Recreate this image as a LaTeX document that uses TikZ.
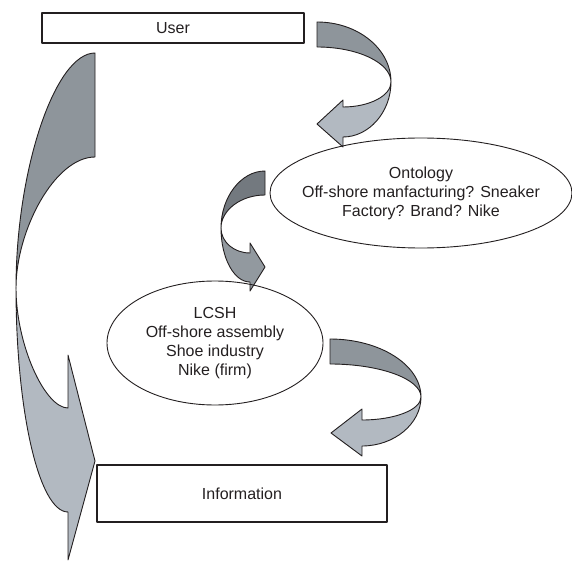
\documentclass[tikz,border=0pt]{standalone}
\usepackage{fontspec}
\setmainfont{Liberation Sans}
\definecolor{edge}{RGB}{35,31,32}
\definecolor{backgray}{RGB}{142,149,155}
\definecolor{frontgray}{RGB}{178,185,193}
\definecolor{backdark}{RGB}{115,121,127}
\definecolor{frontdark}{RGB}{146,153,159}
\begin{document}
\begin{tikzpicture}[x=1pt,y=-1pt,line join=round,
        label text/.style={font=\fontsize{16}{19}\selectfont,text=edge,align=center},
        box/.style={draw=edge,line width=1.6pt,inner sep=0pt,label text},
        bubble/.style={draw=edge,line width=0.9pt},
        backband/.style={fill=backgray,draw=edge,line width=0.9pt},
        frontband/.style={fill=frontgray,draw=edge,line width=0.9pt}]
        \useasboundingbox (0,0) rectangle (572,561);

        % user -> ontology
        \draw[backband] (317,22) .. controls (358,22) and (391,49) .. (391,82) .. controls (391,63) and (358,47) .. (317,47) -- cycle;
        \draw[frontband] (391,82) .. controls (391,112) and (369,137) .. (343,137) -- (343,147) -- (317,124) -- (343,100) -- (343,107) .. controls (369,107) and (391,96) .. (391,82) -- cycle;

        % ontology -> lcsh
        \draw[backband,fill=backdark] (265,171) .. controls (241,171) and (221,197) .. (221,228) .. controls (221,210) and (241,195) .. (265,195) -- cycle;
        \draw[frontband,fill=frontdark] (221,228) .. controls (221,258) and (234,282) .. (250,282) -- (250,291) -- (265,267) -- (250,243) -- (250,253) .. controls (234,253) and (221,242) .. (221,228) -- cycle;

        % lcsh -> information
        \draw[backband] (330,339) .. controls (380,339) and (421,365) .. (421,397) .. controls (421,379) and (380,364) .. (330,364) -- cycle;
        \draw[frontband] (421,397) .. controls (421,424) and (394,446) .. (362,446) -- (362,456) -- (331,433) -- (362,409) -- (362,420) .. controls (394,420) and (421,410) .. (421,397) -- cycle;

        % user -> information
        \draw[backband] (95,53) .. controls (55,53) and (16,170) .. (16,288) .. controls (16,230) and (55,157) .. (95,157) -- cycle;
        \draw[frontband] (16,288) .. controls (16,411) and (39,512) .. (68,512) -- (68,560) -- (95,461) -- (68,355) -- (68,408) .. controls (45,408) and (16,345) .. (16,288) -- cycle;

        \node[box,minimum width=262pt,minimum height=30pt] (user) at (173,28) {User};
        \node[box,line width=1.2pt,minimum width=290pt,minimum height=57pt] (info) at (242,493.5) {Information};

        \node[label text] (onto) at (421,193) {Ontology\\Off-shore manfacturing? Sneaker\\Factory? Brand? Nike};
        \draw[bubble] (onto.center) ellipse [x radius=151pt,y radius=55pt];

        \node[label text] (lcsh) at (215,343) {LCSH\\Off-shore assembly\\Shoe industry\\Nike (firm)};
        \draw[bubble] (lcsh.center) ellipse [x radius=108pt,y radius=62pt];
\end{tikzpicture}
\end{document}
